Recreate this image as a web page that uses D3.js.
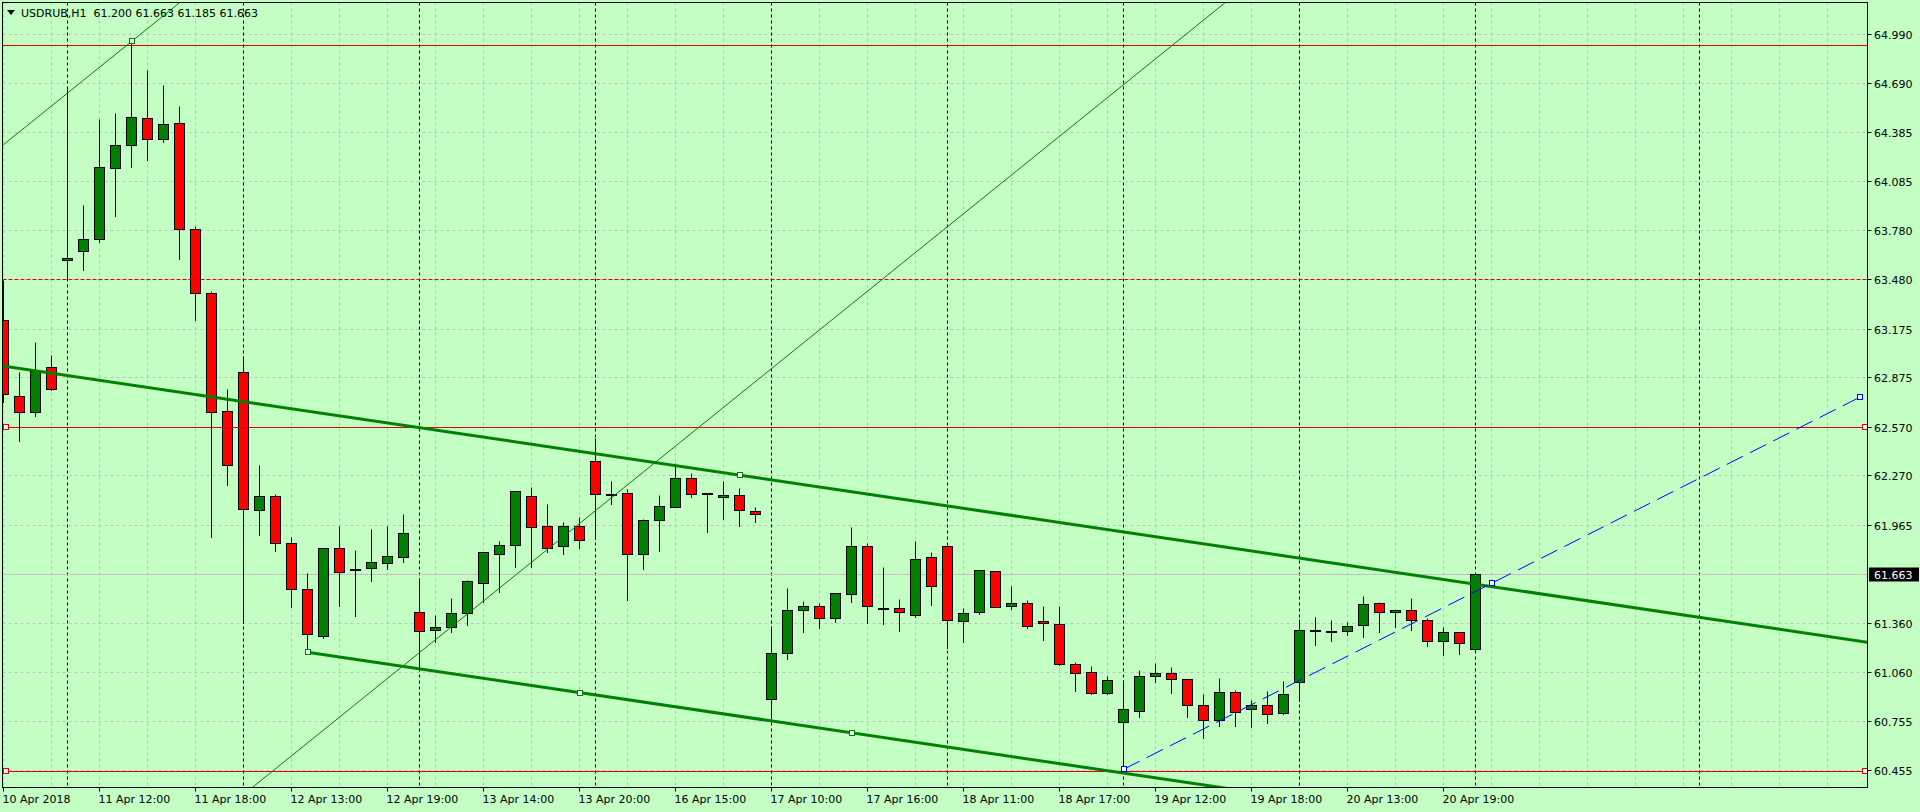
<!DOCTYPE html>
<html>
<head>
<meta charset="utf-8">
<script src="https://cdn.jsdelivr.net/npm/d3@7"></script>
<style>
body { margin: 0; background: #c4ffc4; }
svg { display: block; font-family: "DejaVu Sans", sans-serif; font-size: 11px; }
</style>
</head>
<body>
<svg id="chart" width="1920" height="812"></svg>
<script>
// USDRUB H1 bars
var symbol = "USDRUB,H1";
var opens  = [63.228,62.759,62.663,62.936,63.596,63.651,63.725,64.162,64.304,64.471,64.341,64.440,63.787,63.392,62.665,62.905,62.055,62.141,61.852,61.568,
              61.283,61.821,61.696,61.698,61.729,61.769,61.427,61.318,61.338,61.420,61.609,61.788,61.843,62.145,61.957,61.833,61.957,62.357,62.156,62.160,
              61.788,61.994,62.074,62.252,62.162,62.135,62.148,62.049,60.891,61.174,61.439,61.464,61.393,61.538,61.833,61.455,61.451,61.408,61.766,61.833,
              61.371,61.427,61.679,61.467,61.482,61.371,61.353,61.106,61.057,60.928,60.749,60.820,61.032,61.051,61.014,60.854,60.761,60.934,60.829,60.854,
              60.804,60.999,61.319,61.310,61.310,61.347,61.482,61.427,61.439,61.377,61.248,61.303,61.200];
var highs  = [63.474,62.909,63.090,63.012,64.665,63.936,64.466,64.501,64.944,64.768,64.676,64.546,63.807,63.406,62.803,63.006,62.332,62.156,61.889,61.667,
              61.821,61.958,61.811,61.940,61.958,62.032,61.636,61.410,61.513,61.626,61.800,61.866,62.172,62.197,62.092,61.983,62.012,62.499,62.236,62.185,
              62.004,62.149,62.345,62.283,62.162,62.236,62.193,62.074,61.340,61.576,61.498,61.486,61.546,61.954,61.852,61.706,61.509,61.864,61.798,61.841,
              61.451,61.687,61.679,61.589,61.502,61.465,61.465,61.122,61.098,61.036,61.010,61.071,61.112,61.088,61.014,60.923,61.020,60.948,60.886,60.940,
              61.002,61.385,61.396,61.379,61.365,61.527,61.488,61.439,61.513,61.390,61.338,61.303,61.663];
var lows   = [62.724,62.482,62.638,62.797,63.474,63.536,63.710,63.870,64.172,64.214,64.326,63.605,63.228,61.893,62.211,61.363,61.903,61.806,61.461,61.180,
              61.267,61.467,61.406,61.621,61.692,61.738,61.091,61.246,61.307,61.348,61.492,61.554,61.708,61.708,61.796,61.786,61.825,61.878,62.094,61.502,
              61.693,61.806,62.074,62.139,61.923,62.002,61.960,61.985,60.775,61.137,61.307,61.330,61.369,61.492,61.363,61.356,61.313,61.399,61.474,61.209,
              61.244,61.414,61.457,61.449,61.332,61.259,61.100,60.944,60.921,60.921,60.459,60.783,60.999,60.928,60.783,60.654,60.728,60.728,60.722,60.743,
              60.798,60.882,61.227,61.252,61.287,61.276,61.307,61.338,61.319,61.221,61.165,61.172,61.185];
var closes = [62.770,62.663,62.915,62.801,63.608,63.725,64.169,64.304,64.477,64.341,64.434,63.787,63.392,62.658,62.332,62.061,62.141,61.852,61.568,61.291,
              61.821,61.677,61.696,61.735,61.772,61.913,61.313,61.338,61.420,61.618,61.796,61.840,62.172,61.950,61.821,61.957,61.870,62.157,62.156,61.788,
              61.994,62.080,62.252,62.157,62.162,62.148,62.055,62.030,61.174,61.441,61.464,61.393,61.546,61.833,61.467,61.455,61.427,61.757,61.587,61.377,
              61.420,61.685,61.461,61.482,61.344,61.359,61.106,61.051,60.928,61.008,60.829,61.032,61.051,61.014,60.854,60.761,60.934,60.811,60.854,60.798,
              60.921,61.316,61.319,61.310,61.340,61.476,61.427,61.439,61.377,61.248,61.303,61.236,61.663];

// time axis
var timeLabelIdx = [0, 6, 12, 18, 24, 30, 36, 42, 48, 54, 60, 66, 72, 78, 84, 90];
var timeLabels = ["10 Apr 2018", "11 Apr 12:00", "11 Apr 18:00", "12 Apr 13:00", "12 Apr 19:00", "13 Apr 14:00",
                  "13 Apr 20:00", "16 Apr 15:00", "17 Apr 10:00", "17 Apr 16:00", "18 Apr 11:00", "18 Apr 17:00",
                  "19 Apr 12:00", "19 Apr 18:00", "20 Apr 13:00", "20 Apr 19:00"];
var separatorIdx = [4, 15, 26, 37, 48, 59, 70, 81, 92, 106];

// price axis
var priceTicks = [64.990, 64.690, 64.385, 64.085, 63.780, 63.480, 63.175, 62.875, 62.570, 62.270, 61.965, 61.663, 61.360, 61.060, 60.755, 60.455];
var bidPrice = 61.663;

// horizontal objects
var redLevels = [64.922, 62.570, 60.451];
var redLevelsWithHandles = [62.570, 60.451];
var redDashedLevels = [63.480];

// trend lines as [bar index, price] anchors
var thinLineA = [[0, 64.308], [8, 64.944]];
var thinLineB = [[16, 60.383], [76, 65.155]];
var channelTop = [[0, 62.944], [46, 62.272]];
var channelBottom = [[19, 61.180], [36, 60.932], [53, 60.684]];
var blueLine = [[70, 60.459], [93, 61.605], [116, 62.751]];

var svg = d3.select("#chart");
var pL = 2.5, pT = 2.5, pR = 1867.5, pB = 787.5;
var bg = "#c4ffc4";

var x = d3.scaleLinear().domain([0, 116]).range([3.5, 3.5 + 16 * 116]);
var y = d3.scaleLinear().domain([60.455, 64.990]).range([770, 34]);
function py(p) { return Math.round(y(p)) + 0.5; }

svg.append("rect").attr("width", 1920).attr("height", 812).attr("fill", bg);

svg.append("clipPath").attr("id", "plot")
    .append("rect").attr("x", pL + 0.5).attr("y", pT + 0.5)
    .attr("width", pR - pL - 1).attr("height", pB - pT - 1);

var g = svg.append("g").attr("clip-path", "url(#plot)");

// grid
var gridIdx = d3.range(0, 117, 3);
g.selectAll(".vgrid").data(gridIdx).enter().append("line")
    .attr("x1", function (d) { return x(d); }).attr("x2", function (d) { return x(d); })
    .attr("y1", pT).attr("y2", pB)
    .attr("stroke", "#c0c0c0").attr("stroke-dasharray", "3,3");
g.selectAll(".hgrid").data(priceTicks).enter().append("line")
    .attr("x1", pL).attr("x2", pR)
    .attr("y1", function (d) { return py(d); }).attr("y2", function (d) { return py(d); })
    .attr("stroke", "#c0c0c0").attr("stroke-dasharray", "3,3");

// day separators
g.selectAll(".sep").data(separatorIdx).enter().append("line")
    .attr("x1", function (d) { return x(d); }).attr("x2", function (d) { return x(d); })
    .attr("y1", pT).attr("y2", pB)
    .attr("stroke", "#000").attr("stroke-dasharray", "3,3");

// bid line
g.append("line").attr("x1", pL).attr("x2", pR)
    .attr("y1", py(bidPrice)).attr("y2", py(bidPrice))
    .attr("stroke", "#c0c0c0");

// candles
var bars = d3.range(opens.length);
g.selectAll(".wick").data(bars).enter().append("line")
    .attr("x1", function (i) { return x(i); }).attr("x2", function (i) { return x(i); })
    .attr("y1", function (i) { return py(highs[i]); })
    .attr("y2", function (i) { return py(lows[i]) + 0.5; })
    .attr("stroke", "#000");

g.selectAll(".body").data(bars).enter().append("rect")
    .attr("x", function (i) { return x(i) - 5; })
    .attr("width", 10)
    .attr("y", function (i) { return py(Math.max(opens[i], closes[i])); })
    .attr("height", function (i) {
        return Math.max(py(Math.min(opens[i], closes[i])) - py(Math.max(opens[i], closes[i])), 1);
    })
    .attr("fill", function (i) {
        if (Math.abs(opens[i] - closes[i]) < 0.002) return "#000";
        return closes[i] > opens[i] ? "#008000" : "#ff0000";
    })
    .attr("stroke", "#000");

// horizontal levels
g.selectAll(".lvl").data(redLevels).enter().append("line")
    .attr("x1", pL).attr("x2", pR)
    .attr("y1", function (d) { return py(d); }).attr("y2", function (d) { return py(d); })
    .attr("stroke", "#e00000");
g.selectAll(".lvld").data(redDashedLevels).enter().append("line")
    .attr("x1", pL).attr("x2", pR)
    .attr("y1", function (d) { return py(d); }).attr("y2", function (d) { return py(d); })
    .attr("stroke", "#e00000").attr("stroke-dasharray", "4,2");

// trend lines
function extend(pts, i0, i1) {
    var a = pts[0], b = pts[pts.length - 1];
    var k = (b[1] - a[1]) / (b[0] - a[0]);
    return [[i0, a[1] + k * (i0 - a[0])], [i1, a[1] + k * (i1 - a[0])]];
}
var lineGen = d3.line().x(function (d) { return x(d[0]); }).y(function (d) { return y(d[1]); });

function drawLine(pts, i0, i1, color, width, dash) {
    var p = g.append("path").datum(extend(pts, i0, i1))
        .attr("d", lineGen).attr("fill", "none")
        .attr("stroke", color).attr("stroke-width", width);
    if (dash) p.attr("stroke-dasharray", dash);
}
drawLine(thinLineA, -1, 20, "#008000", 1);
drawLine(thinLineB, 10, 80, "#008000", 1);
drawLine(channelTop, -1, 118, "#008000", 3);
drawLine(channelBottom, 19, 118, "#008000", 3);
drawLine(blueLine, 70, 116, "#0000ff", 1, "18,8");

// object handles
function handles(pts, color) {
    g.selectAll(null).data(pts).enter().append("rect")
        .attr("x", function (d) { return Math.round(x(d[0])) - 2.5; })
        .attr("y", function (d) { return Math.round(y(d[1])) - 2.5; })
        .attr("width", 5).attr("height", 5)
        .attr("fill", "#fff").attr("stroke", color);
}
handles([thinLineA[1]], "#008000");
handles([channelTop[1]], "#008000");
handles(channelBottom, "#008000");
handles(blueLine, "#0000ff");
var lvlHandles = [];
redLevelsWithHandles.forEach(function (d) {
    lvlHandles.push([x.invert(pL + 3), d]);
    lvlHandles.push([x.invert(pR - 3), d]);
});
handles(lvlHandles, "#e00000");

// frame
svg.append("rect").attr("x", pL).attr("y", pT)
    .attr("width", pR - pL).attr("height", pB - pT)
    .attr("fill", "none").attr("stroke", "#000");

// price axis
var axisTicks = priceTicks.filter(function (d) { return d !== bidPrice; });
svg.selectAll(".ptick").data(axisTicks).enter().append("line")
    .attr("x1", pR).attr("x2", pR + 4)
    .attr("y1", function (d) { return py(d); }).attr("y2", function (d) { return py(d); })
    .attr("stroke", "#000");
svg.selectAll(".plabel").data(axisTicks).enter().append("text")
    .attr("x", 1874).attr("y", function (d) { return py(d) + 4; })
    .attr("fill", "#000")
    .text(function (d) { return d.toFixed(3); });

svg.append("rect").attr("x", 1869).attr("y", py(bidPrice) - 7)
    .attr("width", 50).attr("height", 14).attr("fill", "#000");
svg.append("text").attr("x", 1874).attr("y", py(bidPrice) + 4)
    .attr("fill", "#fff").text(bidPrice.toFixed(3));

// time axis
svg.selectAll(".ttick").data(timeLabelIdx).enter().append("line")
    .attr("x1", function (d) { return x(d); }).attr("x2", function (d) { return x(d); })
    .attr("y1", pB).attr("y2", pB + 4)
    .attr("stroke", "#000");
svg.selectAll(".tlabel").data(timeLabelIdx).enter().append("text")
    .attr("x", function (d) { return x(d) - 1; }).attr("y", 803)
    .attr("fill", "#000")
    .text(function (d, k) { return timeLabels[k]; });

// title
svg.append("path").attr("d", "M7,10L15,10L11,15Z").attr("fill", "#000");
svg.append("text").attr("x", 21).attr("y", 17).attr("fill", "#000")
    .text(symbol + "\u00a0\u00a0" + [opens[92], highs[92], lows[92], closes[92]].map(function (d) { return d.toFixed(3); }).join(" "));
</script>
</body>
</html>
